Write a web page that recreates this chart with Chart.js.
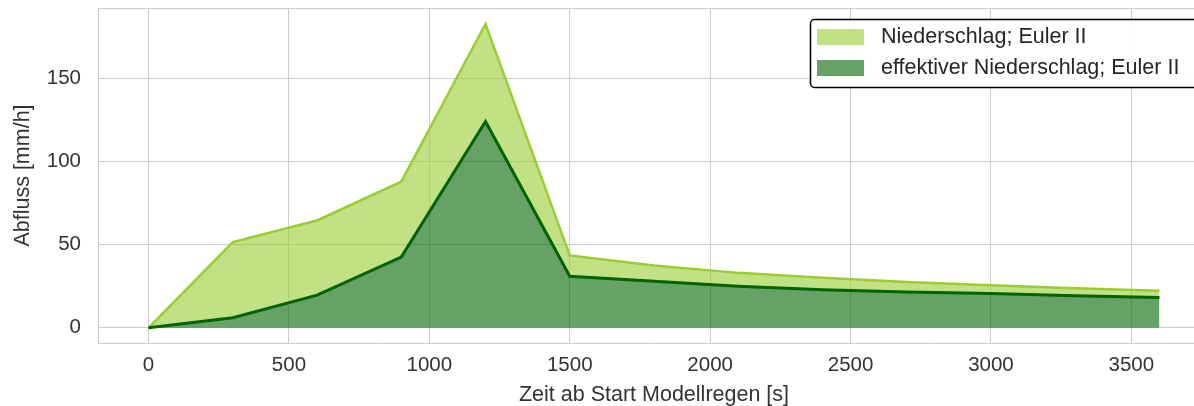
<!DOCTYPE html>
<html>
<head>
<meta charset="utf-8">
<script src="https://cdn.jsdelivr.net/npm/chart.js@4.4.1/dist/chart.umd.min.js"></script>
<style>
    html, body { margin: 0; padding: 0; background: #fff; overflow: hidden; }
    #wrap { width: 1212px; height: 406px; }
</style>
</head>
<body>
<div id="wrap"><canvas id="chart1"></canvas></div>
<script>
// Zeit ab Start Modellregen [s]
const zeit = [0, 300, 600, 900, 1200, 1500, 1800, 2100, 2400, 2700, 3000, 3300, 3600]
// Abfluss [mm/h]
const niederschlag = [0, 51.5, 64.5, 87.8, 182.6, 43.5, 37.5, 33, 30, 27.5, 25.6, 23.8, 22.2]
const effektiv = [0, 6, 19.6, 42.5, 124, 31, 28, 25, 22.8, 21.5, 20.6, 19.3, 18.2]

const xTicks = [0, 500, 1000, 1500, 2000, 2500, 3000, 3500]
const yTicks = [0, 50, 100, 150]
const legendLabels = ['Niederschlag; Euler II', 'effektiver Niederschlag; Euler II']

const hellFill = 'rgba(154, 205, 50, 0.6)'
const dunkelFill = 'rgba(0, 100, 0, 0.6)'

Chart.defaults.font.family = "'Liberation Sans', Arial, sans-serif"

// obere rahmenlinie + legende oben rechts (wie matplotlib, rechts abgeschnitten)
const rahmenUndLegende = {
    id: 'rahmenUndLegende',
    beforeDatasetsDraw(chart) {
        const {ctx, chartArea} = chart
        ctx.save()
        ctx.strokeStyle = '#cccccc'
        ctx.lineWidth = 1
        ctx.beginPath()
        ctx.moveTo(chartArea.left, chartArea.top + 0.5)
        ctx.lineTo(chartArea.right, chartArea.top + 0.5)
        ctx.stroke()
        ctx.restore()
    },
    afterDraw(chart) {
        const {ctx, chartArea} = chart
        const x0 = 810
        const y0 = chartArea.top + 11
        ctx.save()
        ctx.beginPath()
        ctx.roundRect(x0 + 0.5, y0 + 0.5, 400, 68, 4)
        ctx.fillStyle = 'rgba(255, 255, 255, 0.92)'
        ctx.fill()
        ctx.strokeStyle = '#000'
        ctx.lineWidth = 1.5
        ctx.stroke()

        const farben = [hellFill, dunkelFill]
        ctx.font = "21.5px 'Liberation Sans', Arial, sans-serif"
        ctx.textBaseline = 'middle'
        legendLabels.forEach((text, i) => {
            const cy = y0 + 18 + i * 31
            ctx.fillStyle = farben[i]
            ctx.fillRect(x0 + 7, cy - 8, 47, 16)
            ctx.fillStyle = '#262626'
            ctx.fillText(text, x0 + 71, cy)
        })
        ctx.restore()
    }
}

const ctx1 = document.querySelector('#chart1').getContext('2d')
const chart1 = new Chart(ctx1, {
    type: 'line',
    data: {
        labels: zeit,
        datasets: [{
            label: legendLabels[0],
            data: zeit.map((t, i) => ({x: t, y: niederschlag[i]})),
            borderColor: '#9acd32',
            borderWidth: 2.5,
            backgroundColor: hellFill,
            fill: 1,
            pointRadius: 0,
            tension: 0,
            order: 2
        }, {
            label: legendLabels[1],
            data: zeit.map((t, i) => ({x: t, y: effektiv[i]})),
            borderColor: '#006400',
            borderWidth: 3,
            backgroundColor: dunkelFill,
            fill: 'origin',
            pointRadius: 0,
            tension: 0,
            order: 1
        }]
    },
    options: {
        responsive: true,
        maintainAspectRatio: false,
        animation: false,
        layout: { padding: { top: 8, right: 2, left: 0, bottom: 0 } },
        plugins: {
            legend: { display: false },
            tooltip: { enabled: false }
        },
        scales: {
            x: {
                type: 'linear',
                min: -180,
                max: 3780,
                afterBuildTicks: s => { s.ticks = xTicks.map(v => ({value: v})) },
                afterFit: s => {
                    s.height = 63
                    s.paddingLeft = 0
                    s.paddingRight = 0
                },
                grid: { color: '#cccccc', drawTicks: false },
                border: { color: '#cccccc' },
                ticks: { padding: 10, color: '#333', font: { size: 20.5 }, callback: v => String(v) },
                title: {
                    display: true,
                    text: 'Zeit ab Start Modellregen [s]',
                    color: '#333',
                    font: { size: 21.5, lineHeight: 1 },
                    padding: 0
                }
            },
            y: {
                min: -9.15,
                max: 192.2,
                afterBuildTicks: s => { s.ticks = yTicks.map(v => ({value: v})) },
                afterFit: s => {
                    s.width = 98
                    s.paddingTop = 0
                    s.paddingBottom = 0
                },
                grid: { color: '#cccccc', drawTicks: false },
                border: { color: '#cccccc' },
                ticks: { padding: 17, color: '#333', font: { size: 20.5 }, callback: v => String(v) },
                title: {
                    display: true,
                    text: 'Abfluss [mm/h]',
                    color: '#333',
                    font: { size: 21.5, lineHeight: 1 },
                    padding: { top: 12, bottom: 0 }
                }
            }
        }
    },
    plugins: [rahmenUndLegende]
})
</script>
</body>
</html>
